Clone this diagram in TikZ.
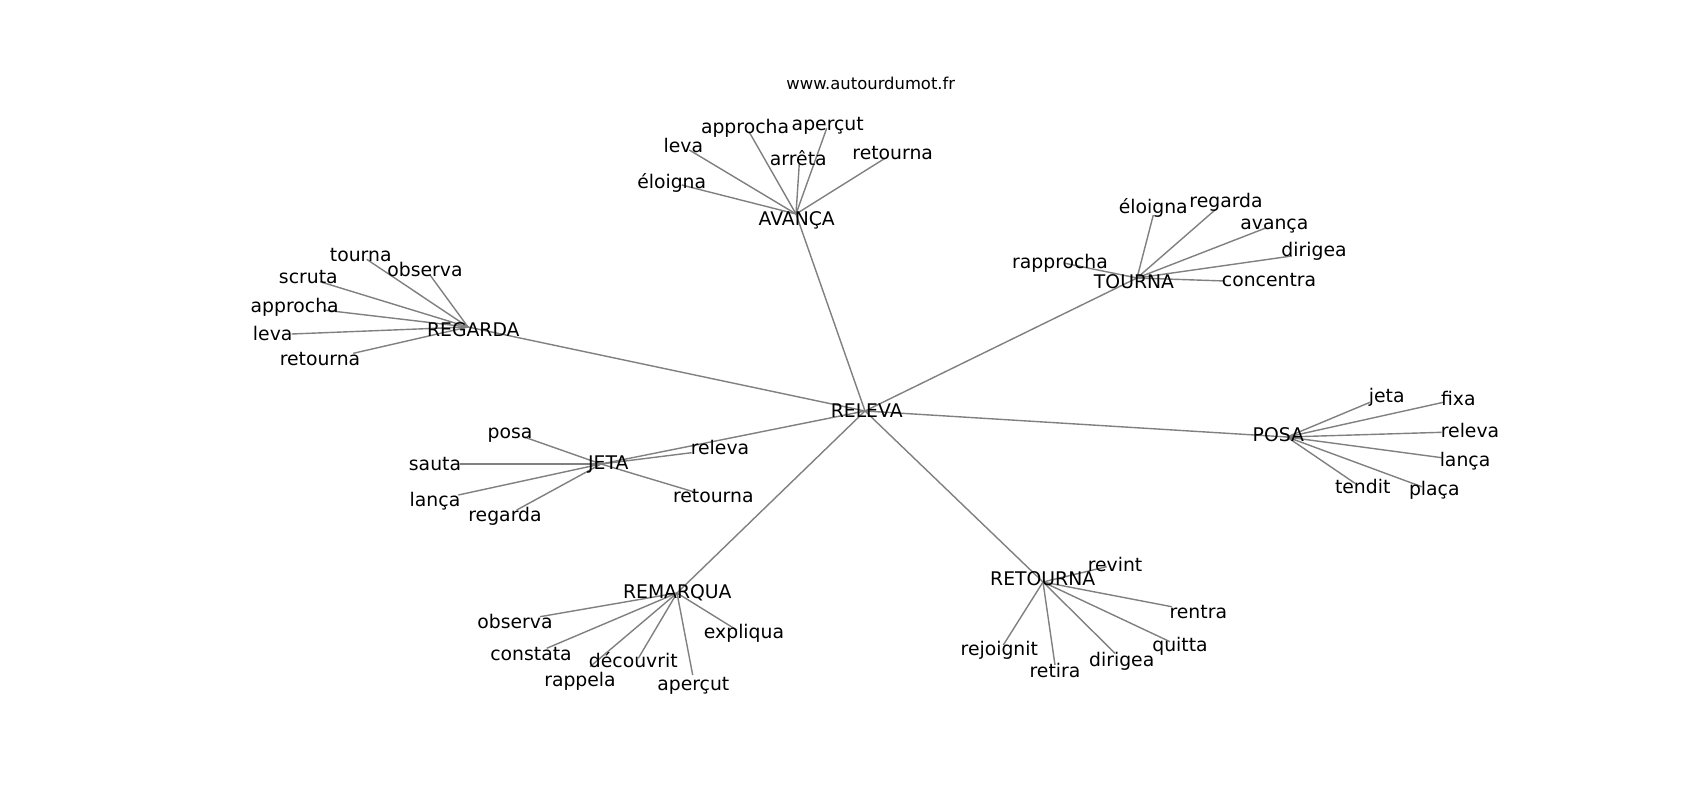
\documentclass[tikz,border=0pt]{standalone}
\usepackage{fontspec}
\setmainfont{DejaVu Sans}
\pgfdeclarelayer{bgfill}
\pgfdeclarelayer{edges}
\pgfsetlayers{bgfill,edges,main}
\tikzset{
  lbl/.style={inner sep=0pt, anchor=center, text height=13.7pt, text depth=0pt, font=\fontsize{18.8}{22}\selectfont, text=black},
  ttl/.style={inner sep=0pt, anchor=center, text height=12pt, text depth=0pt, font=\fontsize{16.4}{20}\selectfont, text=black},
  edge/.style={draw=black!50, line width=1.4pt}
}
\newcommand\mkleaf[5]{%
  \coordinate (#1p) at (#3);
  \node[lbl] (#1) at (#2) {#4};
  \begin{pgfonlayer}{edges}\draw[edge] (#5p) -- (#1p);\end{pgfonlayer}}
\begin{document}
\begin{tikzpicture}[x=1pt,y=-1pt]
\begin{pgfonlayer}{bgfill}
\fill[white] (0,0) rectangle (1700,800);
\end{pgfonlayer}
\useasboundingbox (0,0) rectangle (1700,800);
\node[ttl] (title) at (870.8,83.3) {www.autourdumot.fr};
% hubs
\coordinate (relevap) at (865,411);
\node[lbl] (releva) at (866.7,410.7) {RELEVA};
\mkleaf{avanca}{796.7,218.3}{796,214}{AVANÇA}{releva}
\mkleaf{regarda}{473.3,329.3}{468,327}{REGARDA}{releva}
\mkleaf{tourna}{1134,281.7}{1137,278}{TOURNA}{releva}
\mkleaf{posa}{1278.3,434.3}{1287,437}{POSA}{releva}
\mkleaf{jeta}{608.3,462.7}{601,464}{JETA}{releva}
\mkleaf{remarqua}{677.3,591.7}{677,593}{REMARQUA}{releva}
\mkleaf{retourna}{1042.7,578.3}{1043,582}{RETOURNA}{releva}
% AVANCA
\mkleaf{av1}{745,126.7}{749,131.7}{approcha}{avanca}
\mkleaf{av2}{827.7,124}{826.7,128.3}{aperçut}{avanca}
\mkleaf{av3}{683.3,145.7}{689.3,150}{leva}{avanca}
\mkleaf{av4}{798.3,159}{799.3,163.3}{arrêta}{avanca}
\mkleaf{av5}{892.7,152.7}{885,158.3}{retourna}{avanca}
\mkleaf{av6}{671.7,181.7}{681.7,185}{éloigna}{avanca}
% REGARDA
\mkleaf{rg1}{360.7,255}{366.7,259.3}{tourna}{regarda}
\mkleaf{rg2}{425,269.3}{430,275}{observa}{regarda}
\mkleaf{rg3}{308.3,276.7}{320,281.7}{scruta}{regarda}
\mkleaf{rg4}{294.7,306}{323.3,310}{approcha}{regarda}
\mkleaf{rg5}{272.7,333.3}{291.7,334}{leva}{regarda}
\mkleaf{rg6}{320,358.3}{353.3,353.3}{retourna}{regarda}
% TOURNA
\mkleaf{to1}{1153.3,206.7}{1153.3,215}{éloigna}{tourna}
\mkleaf{to2}{1226,201}{1215,210}{regarda}{tourna}
\mkleaf{to3}{1274.3,222.7}{1265,228.3}{avança}{tourna}
\mkleaf{to4}{1314,249.3}{1291.7,256}{dirigea}{tourna}
\mkleaf{to5}{1060,261.7}{1065,263.3}{rapprocha}{tourna}
\mkleaf{to6}{1269,279.3}{1225,281}{concentra}{tourna}
% POSA
\mkleaf{po1}{1386.7,395.7}{1370,402.3}{jeta}{posa}
\mkleaf{po2}{1458.3,398.3}{1443.3,402.3}{fixa}{posa}
\mkleaf{po3}{1470,430.7}{1441.7,432.3}{releva}{posa}
\mkleaf{po4}{1465,460}{1441.7,457.7}{lança}{posa}
\mkleaf{po5}{1362.7,486.7}{1355,483.3}{tendit}{posa}
\mkleaf{po6}{1434.3,488.3}{1421.7,486.7}{plaça}{posa}
% JETA
\mkleaf{je1}{510,431.7}{525,437.3}{posa}{jeta}
\mkleaf{je2}{435,463.3}{460,464}{sauta}{jeta}
\mkleaf{je3}{435,499.3}{458.3,495}{lança}{jeta}
\mkleaf{je4}{505,515}{516.7,510}{regarda}{jeta}
\mkleaf{je5}{720,447.7}{691.7,452.7}{releva}{jeta}
\mkleaf{je6}{713.3,496}{693.3,491.7}{retourna}{jeta}
% REMARQUA
\mkleaf{re1}{515,621.7}{540,616.7}{observa}{remarqua}
\mkleaf{re2}{531,653.3}{546.7,648.3}{constata}{remarqua}
\mkleaf{re3}{633.3,660.7}{638.3,658.3}{découvrit}{remarqua}
\mkleaf{re4}{580,680}{590,666.7}{rappela}{remarqua}
\mkleaf{re5}{693.3,683.3}{692.7,675}{aperçut}{remarqua}
\mkleaf{re6}{744,631.7}{736.7,630}{expliqua}{remarqua}
% RETOURNA
\mkleaf{rt1}{1115,565}{1106.7,566.7}{revint}{retourna}
\mkleaf{rt2}{1198.3,611.7}{1171.7,606.7}{rentra}{retourna}
\mkleaf{rt3}{1180,645}{1170,641.7}{quitta}{retourna}
\mkleaf{rt4}{1121.7,659.3}{1115,653.3}{dirigea}{retourna}
\mkleaf{rt5}{1055,670.7}{1055,665}{retira}{retourna}
\mkleaf{rt6}{999.3,648.3}{1003.3,645}{rejoignit}{retourna}
\end{tikzpicture}
\end{document}
